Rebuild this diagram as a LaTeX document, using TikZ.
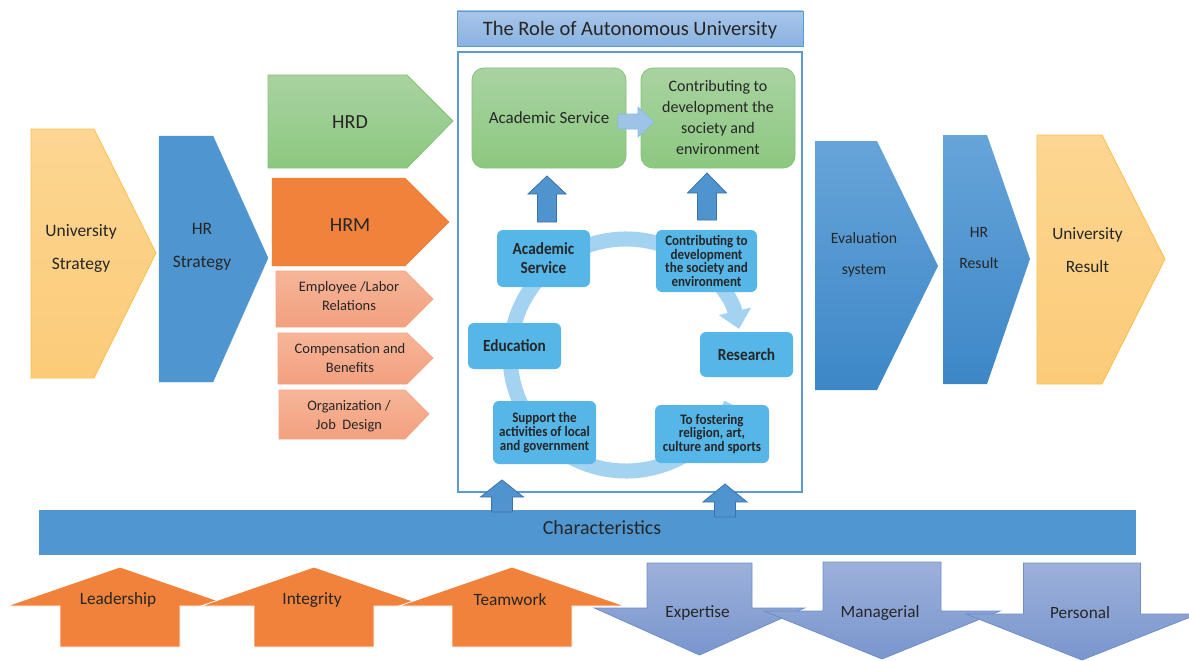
\documentclass[tikz,border=0pt]{standalone}
\usepackage{fontspec}
\setmainfont{Carlito}
\newfontfamily\cyclefont[FakeStretch=0.9]{Carlito}
\usetikzlibrary{arrows.meta}

\definecolor{uniTop}{HTML}{FDD692}
\definecolor{uniBot}{HTML}{FBCB78}
\definecolor{uniLine}{HTML}{F9C048}
\definecolor{hrBlue}{HTML}{4F96D0}
\definecolor{hrdTop}{HTML}{A9D3A1}
\definecolor{hrdBot}{HTML}{8CC880}
\definecolor{hrdLine}{HTML}{86C27A}
\definecolor{hrmOrange}{HTML}{F1823B}
\definecolor{subTop}{HTML}{F7B598}
\definecolor{subBot}{HTML}{F2A07F}
\definecolor{subLine}{HTML}{F4A886}
\definecolor{titleTop}{HTML}{A8C6E9}
\definecolor{titleBot}{HTML}{8AB2E0}
\definecolor{boxLine}{HTML}{5B9BD5}
\definecolor{smallArrow}{HTML}{9DC3E6}
\definecolor{upBlue}{HTML}{4F94CE}
\definecolor{upLine}{HTML}{3B73A8}
\definecolor{ringBlue}{HTML}{A3D3F1}
\definecolor{cycleBlue}{HTML}{55B6E7}
\definecolor{evalTop}{HTML}{66A4D9}
\definecolor{evalBot}{HTML}{3D87C7}
\definecolor{barBlue}{HTML}{5097D1}
\definecolor{downTop}{HTML}{9CB0DA}
\definecolor{downBot}{HTML}{7A96CE}
\definecolor{downLine}{HTML}{6E8ECA}
\definecolor{txtGray}{HTML}{262626}

\tikzset{
	unishape/.style={top color=uniTop,bottom color=uniBot,draw=uniLine,line width=0.8pt},
	hrshape/.style={fill=hrBlue,draw=hrBlue},
	evalshape/.style={top color=evalTop,bottom color=evalBot,draw=none},
	hrdshape/.style={top color=hrdTop,bottom color=hrdBot,draw=hrdLine,line width=0.8pt},
	hrmshape/.style={fill=hrmOrange,draw=hrmOrange},
	subshape/.style={top color=subTop,bottom color=subBot,draw=subLine,line width=0.8pt},
	upshape/.style={fill=hrmOrange,draw=white,line width=0.8pt},
	downshape/.style={top color=downTop,bottom color=downBot,draw=downLine,line width=0.8pt},
	bluearrow/.style={fill=upBlue,draw=upLine,line width=0.8pt},
	greenbox/.style={rounded corners=12pt,top color=hrdTop,bottom color=hrdBot,draw=hrdLine,line width=0.8pt,
		minimum width=154pt,minimum height=100pt,text=txtGray,align=center},
	cyclebox/.style={rounded corners=6pt,fill=cycleBlue,text=txtGray,align=center,inner sep=0pt},
	lbl/.style={text=txtGray,align=center,inner sep=0pt},
}

\begin{document}
\begin{tikzpicture}

\begin{scope}[x=1pt,y=-1pt]
\useasboundingbox (0,0) rectangle (1189,661);

\foreach \s/\a/\b/\c/\d/\e/\f in{
	unishape/31/94/156/129/378/253
	,hrshape/159/213/268/136/382/258
	,hrdshape/268/407/453/75/168/121
	,hrmshape/272/405/449/178/266/222
	,subshape/276/405/433/271/327/299
	,subshape/278/407/433/333/384/358
	,subshape/279/405/429/390/439/414
	,evalshape/815/877/938/141/390/266
	,evalshape/943/987/1030/135/384/259
	,unishape/1037/1102/1165/135/384/259
}{
	\draw[\s] (\a,\d) -- (\b,\d) -- (\c,\f) -- (\b,\e) -- (\a,\e) -- cycle;
}

\node[lbl,font=\fontsize{17.5}{33}\selectfont] (unistrat) at (81,248.5) {University\\Strategy};
\node[lbl,font=\fontsize{17.5}{33}\selectfont] (hrstrat) at (202,246.5) {HR\\Strategy};
\node[lbl,font=\fontsize{20}{24}\selectfont] (hrd) at (350,122) {HRD};
\node[lbl,font=\fontsize{20}{24}\selectfont] (hrm) at (350,225) {HRM};
\node[lbl,font=\fontsize{14.5}{18.5}\selectfont] (labor) at (349,296) {Employee /Labor\\Relations};
\node[lbl,font=\fontsize{14.5}{18.5}\selectfont] (comp) at (350,358) {Compensation and\\Benefits};
\node[lbl,font=\fontsize{14.5}{19.5}\selectfont] (org) at (349,416) {Organization /\\Job~ Design};
\node[lbl,font=\fontsize{15.7}{31.5}\selectfont] (evalsys) at (864,255) {Evaluation\\system};
\node[lbl,font=\fontsize{15.7}{31.5}\selectfont] (hrres) at (979,248) {HR\\Result};
\node[lbl,font=\fontsize{17.3}{33}\selectfont] (unires) at (1087.5,250) {University\\Result};

\fill[barBlue] (39,510) rectangle (1136,555);
\node[lbl,font=\fontsize{20}{24}\selectfont] (charac) at (602,527.5) {Characteristics};

\draw[top color=titleTop,bottom color=titleBot,draw=boxLine,line width=0.6pt] (457,11) rectangle (803,46);
\node[lbl,font=\fontsize{20.5}{24}\selectfont] (title) at (630,30) {The Role of Autonomous University};
\draw[boxLine,line width=1.2pt,fill=white] (458,52) rectangle (802,492);

\node[greenbox,font=\fontsize{17}{21}\selectfont] (gacad) at (549,118) {Academic Service};
\node[greenbox,font=\fontsize{16}{21}\selectfont] (gcontrib) at (718,118) {Contributing to\\development the\\society and\\environment};
\draw[fill=smallArrow,draw=boxLine!70,line width=0.6pt] (618,114) -- (638,114) -- (638,107) -- (654,122)
	-- (638,137) -- (638,129) -- (618,129) -- cycle;

\coordinate (ringc) at (626,355);
\draw[ringBlue,line width=15pt,-{Triangle[width=32pt,length=18pt]}] (ringc) ++(25:116) arc[start angle=25,end angle=347,radius=116];

\node[cyclebox,minimum width=93pt,minimum height=57pt,font=\cyclefont\bfseries\fontsize{17}{19}\selectfont] (cacad) at (543.5,258.5) {Academic\\Service};
\node[cyclebox,minimum width=101pt,minimum height=62pt,font=\cyclefont\bfseries\fontsize{14.5}{13.7}\selectfont] (ccontrib) at (706.5,261) {Contributing to\\development\\the society and\\environment};
\node[cyclebox,minimum width=93pt,minimum height=46pt,font=\cyclefont\bfseries\fontsize{17}{19}\selectfont] (cedu) at (514.5,346) {Education};
\node[cyclebox,minimum width=93pt,minimum height=45pt,font=\cyclefont\bfseries\fontsize{17}{19}\selectfont] (cres) at (746.5,354.5) {Research};
\node[cyclebox,minimum width=103pt,minimum height=63pt,font=\cyclefont\bfseries\fontsize{14.5}{13.7}\selectfont] (csupp) at (544.5,432.5) {Support the\\activities of local\\and government};
\node[cyclebox,minimum width=114pt,minimum height=58pt,font=\cyclefont\bfseries\fontsize{14.5}{13.7}\selectfont] (cfost) at (712,434) {To fostering\\religion, art,\\culture and sports};

\foreach \c/\t/\b/\h/\w/\e in{
	547/176/194/19/9.5/222
	,707/173/193/19.5/9.5/220
	,502/480/497/21.5/10.5/512
	,725/484/502/22/10.5/517
}{
	\draw[bluearrow] (\c,\t) -- (\c+\h,\b) -- (\c+\w,\b) -- (\c+\w,\e) -- (\c-\w,\e) -- (\c-\w,\b) -- (\c-\h,\b) -- cycle;
}

\foreach \c/\n/\t in{
	120/lead/Leadership
	,314/integ/Integrity
	,512/team/Teamwork
}{
	\draw[upshape] (\c,567) -- (\c+113,606) -- (\c+60,606) -- (\c+60,647) -- (\c-60,647) -- (\c-60,606) -- (\c-113,606) -- cycle;
	\node[lbl,font=\fontsize{17.3}{20}\selectfont] (\n) at (\c,600) {\t};
}

\foreach \c/\w/\h/\t/\b/\p/\n/\txt in{
	699.5/52.5/105/563/608/655/expert/Expertise
	,882/59/118/562/611/659/manag/Managerial
	,1082/58.5/116/563/614/660/pers/Personal
}{
	\draw[downshape] (\c-\w,\t) -- (\c+\w,\t) -- (\c+\w,\b) -- (\c+\h,\b) -- (\c,\p) -- (\c-\h,\b) -- (\c-\w,\b) -- cycle;
	\node[lbl,font=\fontsize{17.2}{20}\selectfont] (\n) at (\c,613) {\txt};
}
\end{scope}

\end{tikzpicture}
\end{document}
